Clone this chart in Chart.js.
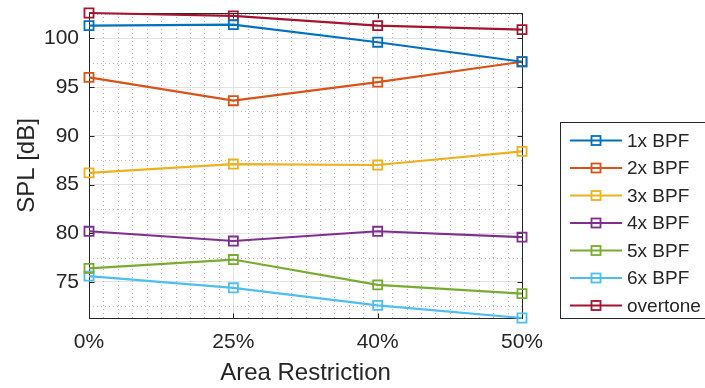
<!DOCTYPE html>
<html>
<head>
<meta charset="utf-8">
<script src="https://cdn.jsdelivr.net/npm/chart.js@4/dist/chart.umd.min.js"></script>
<style>
  html, body { margin: 0; padding: 0; background: #fff; }
  canvas { display: block; }
</style>
</head>
<body>
<canvas id="c" width="705" height="388"></canvas>
<script>
// Area restriction levels (x categories)
const categories = ['0%', '25%', '40%', '50%'];

// SPL per harmonic, in dB
const bpf1 = [101.3, 101.4, 99.6, 97.6];
const bpf2 = [96.0, 93.6, 95.5, 97.6];
const bpf3 = [86.2, 87.1, 87.0, 88.4];
const bpf4 = [80.2, 79.2, 80.2, 79.6];
const bpf5 = [76.4, 77.3, 74.7, 73.8];
const bpf6 = [75.6, 74.4, 72.6, 71.3];
const overtone = [102.6, 102.3, 101.3, 100.9];

const seriesNames = ['1x BPF', '2x BPF', '3x BPF', '4x BPF', '5x BPF', '6x BPF', 'overtone'];
const seriesValues = [bpf1, bpf2, bpf3, bpf4, bpf5, bpf6, overtone];
const seriesColors = ['#0072BD', '#D95319', '#EDB120', '#7E2F8E', '#77AC30', '#4DBEEE', '#A2142F'];

// y axis
const yTicks = [75, 80, 85, 90, 95, 100];
const yMin = 71.3;
const yMax = 102.6;
const yMinorStep = 2.5;
const xMinorDivisions = 10;

const FONT = "'Liberation Sans', Arial, Helvetica, sans-serif";
const INK = '#262626';

// Dotted minor grid, boxed axes with inward ticks, and the legend box
const axesBox = {
  id: 'axesBox',
  beforeDatasetsDraw(chart) {
    const { ctx, chartArea: a, scales: { x, y } } = chart;
    ctx.save();
    ctx.strokeStyle = '#b8b8b8';
    ctx.lineWidth = 1;
    ctx.setLineDash([1, 3]);
    for (let i = 0; i < categories.length - 1; i++) {
      for (let k = 1; k < xMinorDivisions; k++) {
        const px = Math.round(x.getPixelForValue(i + k / xMinorDivisions)) + 0.5;
        ctx.beginPath(); ctx.moveTo(px, a.top); ctx.lineTo(px, a.bottom); ctx.stroke();
      }
    }
    for (let v = Math.ceil(yMin / yMinorStep) * yMinorStep; v <= yMax; v += yMinorStep) {
      if (yTicks.includes(v)) continue;
      const py = Math.round(y.getPixelForValue(v)) + 0.5;
      ctx.beginPath(); ctx.moveTo(a.left, py); ctx.lineTo(a.right, py); ctx.stroke();
    }
    ctx.setLineDash([]);
    ctx.strokeStyle = INK;
    ctx.lineWidth = 1;
    const L = Math.round(a.left) + 0.5, R = Math.round(a.right) + 0.5;
    const T = Math.round(a.top) + 0.5, B = Math.round(a.bottom) + 0.5;
    ctx.strokeRect(L, T, R - L, B - T);
    const tl = 5;
    categories.forEach((c, i) => {
      const px = Math.round(x.getPixelForValue(i)) + 0.5;
      ctx.beginPath();
      ctx.moveTo(px, T); ctx.lineTo(px, T + tl);
      ctx.moveTo(px, B); ctx.lineTo(px, B - tl);
      ctx.stroke();
    });
    yTicks.forEach(v => {
      const py = Math.round(y.getPixelForValue(v)) + 0.5;
      ctx.beginPath();
      ctx.moveTo(L, py); ctx.lineTo(L + tl, py);
      ctx.moveTo(R, py); ctx.lineTo(R - tl, py);
      ctx.stroke();
    });
    ctx.restore();
  },
  afterDraw(chart) {
    const ctx = chart.ctx;
    ctx.save();
    const bx = 560.5, by = 122.5, bw = 150, bh = 196;
    ctx.fillStyle = '#fff';
    ctx.fillRect(bx, by, bw, bh);
    ctx.strokeStyle = INK;
    ctx.lineWidth = 1;
    ctx.strokeRect(bx, by, bw, bh);
    ctx.font = '19px ' + FONT;
    ctx.textBaseline = 'middle';
    ctx.textAlign = 'left';
    chart.data.datasets.forEach((ds, i) => {
      const cy = 140.5 + i * 27.5;
      ctx.strokeStyle = ds.borderColor;
      ctx.lineWidth = 2;
      ctx.beginPath(); ctx.moveTo(570, cy); ctx.lineTo(622, cy); ctx.stroke();
      ctx.lineWidth = 1.8;
      ctx.strokeRect(596 - 4.5, cy - 4.5, 9, 9);
      ctx.fillStyle = INK;
      ctx.fillText(ds.label, 627, cy + 1);
    });
    ctx.restore();
  }
};

const datasets = seriesNames.map((name, i) => ({
  label: name,
  data: seriesValues[i],
  borderColor: seriesColors[i],
  backgroundColor: seriesColors[i],
  borderWidth: 2.2,
  pointStyle: 'rect',
  pointRadius: 6.4,
  pointHoverRadius: 6.4,
  pointBorderWidth: 1.8,
  pointBackgroundColor: 'rgba(255,255,255,0)',
  tension: 0,
  clip: false
}));

new Chart(document.getElementById('c'), {
  type: 'line',
  data: { labels: categories, datasets },
  options: {
    responsive: false,
    animation: false,
    devicePixelRatio: 1,
    layout: { padding: { left: 0, top: 13, right: 183, bottom: 0 } },
    plugins: { legend: { display: false }, tooltip: { enabled: false } },
    scales: {
      x: {
        type: 'category',
        offset: false,
        grid: { color: '#e3e3e3', lineWidth: 1, drawTicks: false },
        border: { display: false },
        ticks: { color: INK, font: { family: FONT, size: 21 }, padding: 12, maxRotation: 0 },
        title: { display: true, text: 'Area Restriction', color: INK, font: { family: FONT, size: 24 }, padding: { top: 0, bottom: 0 } },
        afterFit(scale) { scale.height = 388 - 318; scale.paddingLeft = 0; scale.paddingRight = 0; }
      },
      y: {
        type: 'linear',
        min: yMin,
        max: yMax,
        afterBuildTicks(scale) { scale.ticks = yTicks.map(v => ({ value: v })); },
        grid: { color: '#e3e3e3', lineWidth: 1, drawTicks: false },
        border: { display: false },
        ticks: { color: INK, font: { family: FONT, size: 21 }, padding: 10 },
        title: { display: true, text: 'SPL [dB]', color: INK, font: { family: FONT, size: 24 }, padding: { top: 13, bottom: 0 } },
        afterFit(scale) { scale.width = 89; scale.paddingTop = 0; scale.paddingBottom = 0; }
      }
    }
  },
  plugins: [axesBox]
});
</script>
</body>
</html>
